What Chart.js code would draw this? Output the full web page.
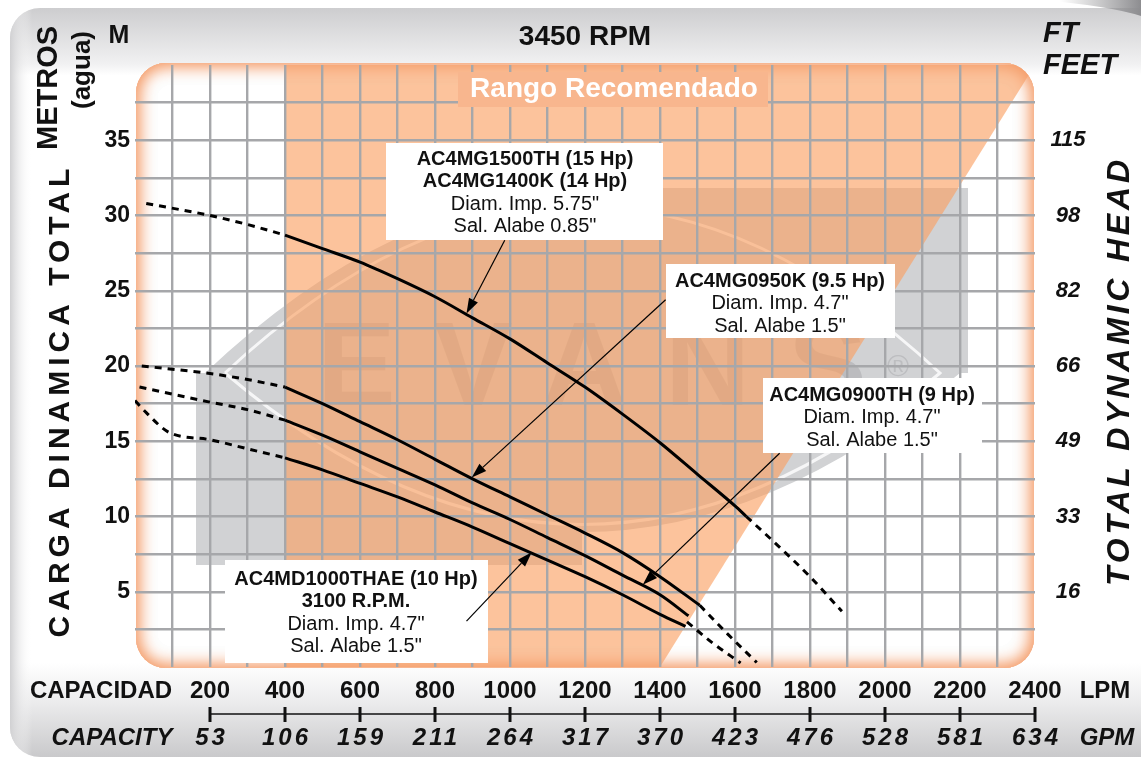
<!DOCTYPE html>
<html>
<head>
<meta charset="utf-8">
<script src="https://cdn.jsdelivr.net/npm/chart.js@4.4.1/dist/chart.umd.min.js"></script>
<style>
  html, body { margin: 0; padding: 0; background: #fff; }
  #wrap { width: 1141px; height: 759px; }
</style>
</head>
<body>
<div id="wrap"><canvas id="curvas" width="1141" height="759"></canvas></div>
<script>
// Curvas de bomba, 3450 RPM — caudal en LPM, carga en metros
const hp15Inicio = [[30, 30.8], [200, 30.0], [300, 29.4], [400, 28.7]];
const hp15 = [[400, 28.7], [500, 27.8], [600, 26.9], [700, 25.8], [800, 24.6], [900, 23.2], [1000, 21.8],
              [1100, 20.2], [1200, 18.6], [1300, 16.8], [1400, 14.9], [1500, 12.8], [1600, 10.7], [1630, 10.0]];
const hp15Fin = [[1630, 10.0], [1700, 8.4], [1800, 6.0], [1885, 3.7]];

const hp95Inicio = [[18, 20.0], [200, 19.5], [300, 19.1], [400, 18.6]];
const hp95 = [[400, 18.6], [500, 17.5], [600, 16.3], [700, 15.1], [800, 13.8], [900, 12.5], [1000, 11.3],
              [1100, 10.1], [1200, 8.9], [1300, 7.6], [1400, 6.0], [1506, 4.1]];
const hp95Fin = [[1506, 4.1], [1580, 2.2], [1658, 0.3]];

const hp9Inicio = [[12, 18.6], [200, 17.6], [300, 17.1], [400, 16.4]];
const hp9 = [[400, 16.4], [500, 15.4], [600, 14.3], [700, 13.2], [800, 12.1], [900, 10.9], [1000, 9.8],
             [1100, 8.6], [1200, 7.4], [1300, 6.1], [1400, 4.8], [1476, 3.4]];

const hp10Inicio = [[0, 17.7], [30, 16.9], [90, 15.6], [200, 15.1], [300, 14.5], [400, 13.9]];
const hp10 = [[400, 13.9], [500, 13.1], [600, 12.2], [700, 11.3], [800, 10.3], [900, 9.3], [1000, 8.2],
              [1100, 7.1], [1200, 6.0], [1300, 4.8], [1400, 3.5], [1468, 2.7]];
const hp9y10Fin = [[1472, 3.0], [1540, 1.6], [1615, 0.27]];

const rangoRecomendado = [[400, 0], [400, 40], [2400, 40], [1400, 0]];

const lpmTicks = [200, 400, 600, 800, 1000, 1200, 1400, 1600, 1800, 2000, 2200, 2400];
const gpmTicks = ['53', '106', '159', '211', '264', '317', '370', '423', '476', '528', '581', '634'];
const metrosTicks = [5, 10, 15, 20, 25, 30, 35];
const piesTicks = ['16', '33', '49', '66', '82', '98', '115'];

// etiquetas: [texto, negrita]
const etiqueta15 = [['AC4MG1500TH (15 Hp)', true], ['AC4MG1400K (14 Hp)', true], ['Diam. Imp. 5.75"', false], ['Sal. Alabe 0.85"', false]];
const etiqueta95 = [['AC4MG0950K (9.5 Hp)', true], ['Diam. Imp. 4.7"', false], ['Sal. Alabe 1.5"', false]];
const etiqueta9 = [['AC4MG0900TH (9 Hp)', true], ['Diam. Imp. 4.7"', false], ['Sal. Alabe 1.5"', false]];
const etiqueta10 = [['AC4MD1000THAE (10 Hp)', true], ['3100 R.P.M.', true], ['Diam. Imp. 4.7"', false], ['Sal. Alabe 1.5"', false]];

// flechas: origen (LPM, m) y punta sobre la curva (LPM)
const flecha15 = [[986, 28.35], 884, hp15];
const flecha95 = [[1415, 24.4], 898, hp95];
const flecha9 = [[1719, 14.2], 1354, hp9];
const flecha10 = [[884, 3.05], 1058, hp10];

const FONT = '"Liberation Sans", Arial, Helvetica, sans-serif';

function linea(data, dashed) {
  return {
    data: data.map(([x, y]) => ({ x, y })),
    showLine: true,
    borderColor: '#000',
    borderWidth: 3,
    borderDash: dashed ? [7, 6] : [],
    pointRadius: 0,
    cubicInterpolationMode: 'monotone',
    fill: false,
  };
}

function enCurva(curva, x) {
  for (let i = 1; i < curva.length; i++) {
    const [x0, y0] = curva[i - 1], [x1, y1] = curva[i];
    if (x >= x0 && x <= x1) return y0 + (y1 - y0) * (x - x0) / (x1 - x0);
  }
  return curva[curva.length - 1][1];
}

function texto(ctx, str, x, y, font, opts = {}) {
  ctx.save();
  ctx.font = font;
  ctx.fillStyle = opts.color || '#111';
  ctx.textAlign = opts.align || 'center';
  ctx.textBaseline = 'middle';
  if (opts.spacing) ctx.letterSpacing = opts.spacing + 'px';
  ctx.translate(x, y);
  if (opts.rot) ctx.rotate(opts.rot);
  ctx.fillText(str, opts.spacing && (opts.align || 'center') === 'center' ? opts.spacing / 2 : 0, 0);
  ctx.restore();
}

function marcaAgua(ctx) {
  // logotipo EVANS, aproximado
  ctx.save();
  ctx.beginPath();
  ctx.rect(196, 188, 772, 377);
  ctx.clip();
  ctx.fillStyle = '#d1d2d4';
  ctx.fillRect(196, 188, 772, 377);
  ctx.fillStyle = '#fff';
  ctx.beginPath();
  ctx.moveTo(150, 150); ctx.lineTo(582, 150); ctx.lineTo(582, 196);
  ctx.quadraticCurveTo(392, 196, 205, 373); ctx.lineTo(150, 373); ctx.closePath();
  ctx.fill();
  ctx.beginPath();
  ctx.moveTo(1000, 373); ctx.lineTo(960, 373);
  ctx.quadraticCurveTo(771, 532, 582, 532); ctx.lineTo(582, 600); ctx.lineTo(1000, 600); ctx.closePath();
  ctx.fill();
  ctx.strokeStyle = 'rgba(255,255,255,0.8)';
  ctx.lineWidth = 3;
  ctx.beginPath();
  ctx.moveTo(225, 373);
  ctx.quadraticCurveTo(582, 40, 940, 373);
  ctx.quadraticCurveTo(582, 676, 225, 373);
  ctx.stroke();
  ctx.restore();
  texto(ctx, 'EVANS', 592, 372, 'bold 118px ' + FONT, { color: 'rgba(120,120,125,0.24)', spacing: 38 });
  texto(ctx, '®', 898, 368, '30px ' + FONT, { color: 'rgba(120,120,125,0.22)' });
}

const fondo = {
  id: 'fondo',
  beforeDraw(chart) {
    const ctx = chart.ctx;
    const xs = chart.scales.x, ys = chart.scales.y;
    const W = chart.width, H = chart.height;
    ctx.save();
    ctx.fillStyle = '#fff';
    ctx.fillRect(0, 0, W, H);

    // tarjeta gris
    let g = ctx.createLinearGradient(0, 8, 0, 757);
    g.addColorStop(0, '#cdcdcf');
    g.addColorStop(0.075, '#f1f1f2');
    g.addColorStop(0.09, '#ffffff');
    g.addColorStop(0.874, '#ffffff');
    g.addColorStop(0.924, '#ededee');
    g.addColorStop(1, '#c9c9cb');
    ctx.beginPath();
    ctx.roundRect(10, 8, W + 40, 749, 30);
    ctx.fillStyle = g;
    ctx.fill();
    ctx.save();
    ctx.clip();
    g = ctx.createLinearGradient(10, 0, 32, 0);
    g.addColorStop(0, '#d0d0d2');
    g.addColorStop(1, 'rgba(255,255,255,0)');
    ctx.fillStyle = g;
    ctx.fillRect(10, 0, 22, H);
    ctx.restore();

    // sombra superior derecha
    g = ctx.createLinearGradient(1060, 0, 1141, 0);
    g.addColorStop(0, 'rgba(150,150,152,0)');
    g.addColorStop(1, '#8d8d90');
    ctx.fillStyle = g;
    ctx.beginPath();
    ctx.moveTo(1040, 0); ctx.lineTo(1141, 0); ctx.lineTo(1141, 16);
    ctx.quadraticCurveTo(1110, 6, 1040, 0);
    ctx.fill();

    // area de grafica
    const L = xs.getPixelForValue(0) + 1, R = xs.getPixelForValue(2400) - 1;
    const T = ys.getPixelForValue(40) - 2, B = ys.getPixelForValue(0) + 1;
    ctx.beginPath();
    ctx.roundRect(L, T, R - L, B - T, 30);
    ctx.fillStyle = '#fff';
    ctx.fill();
    ctx.clip();
    marcaAgua(ctx);

    ctx.beginPath();
    rangoRecomendado.forEach(([x, y], i) => {
      const px = xs.getPixelForValue(x), py = ys.getPixelForValue(y);
      if (i === 0) ctx.moveTo(px, py); else ctx.lineTo(px, py);
    });
    ctx.closePath();
    ctx.fillStyle = 'rgba(250,158,95,0.62)';
    ctx.fill();

    // resplandor naranja del borde
    for (let k = 0; k < 2; k++) {
      ctx.save();
      ctx.shadowColor = '#f59c68';
      ctx.shadowBlur = 18;
      ctx.beginPath();
      ctx.rect(L - 300, T - 300, R - L + 600, B - T + 600);
      ctx.roundRect(L, T, R - L, B - T, 30);
      ctx.fillStyle = '#f59c68';
      ctx.fill('evenodd');
      ctx.restore();
    }
    ctx.restore();
  },
  beforeDatasetsDraw(chart) {
    const ctx = chart.ctx;
    // caja "Rango Recomendado"
    ctx.fillStyle = '#f8b68e';
    ctx.fillRect(458, 72, 310, 35);
    texto(ctx, 'Rango Recomendado', 614, 89, 'bold 28px ' + FONT, { color: '#fff' });

    const caja = (lineas, x, y, w, h, y0, cx) => {
      ctx.fillStyle = '#fff';
      ctx.fillRect(x, y, w, h);
      lineas.forEach(([s, b], i) => texto(ctx, s, cx, y0 + i * 22.6, (b ? 'bold ' : '') + '20px ' + FONT, { color: '#111' }));
    };
    caja(etiqueta15, 386, 143, 277, 97, 159, 525);
    caja(etiqueta95, 666, 264, 229, 74, 281, 780);
    caja(etiqueta9, 763, 378, 219, 75, 395, 872);
    caja(etiqueta10, 225, 560, 263, 103, 579, 356);
  },
  afterDatasetsDraw(chart) {
    const ctx = chart.ctx;
    const xs = chart.scales.x, ys = chart.scales.y;
    [flecha15, flecha95, flecha9, flecha10].forEach(([a, tx, curva]) => {
      const x1 = xs.getPixelForValue(a[0]), y1 = ys.getPixelForValue(a[1]);
      const x2 = xs.getPixelForValue(tx), y2 = ys.getPixelForValue(enCurva(curva, tx)) - 1;
      const ang = Math.atan2(y2 - y1, x2 - x1);
      const len = 15, half = 5;
      const bx = x2 - len * Math.cos(ang), by = y2 - len * Math.sin(ang);
      ctx.save();
      ctx.strokeStyle = '#000';
      ctx.lineWidth = 1.2;
      ctx.beginPath(); ctx.moveTo(x1, y1); ctx.lineTo(bx, by); ctx.stroke();
      ctx.fillStyle = '#000';
      ctx.beginPath();
      ctx.moveTo(x2, y2);
      ctx.lineTo(bx + half * Math.sin(ang), by - half * Math.cos(ang));
      ctx.lineTo(bx - half * Math.sin(ang), by + half * Math.cos(ang));
      ctx.closePath();
      ctx.fill();
      ctx.restore();
    });
  },
  afterDraw(chart) {
    const ctx = chart.ctx;
    const xs = chart.scales.x, ys = chart.scales.y;
    const B = 'bold ', BI = 'italic bold ';

    texto(ctx, '3450 RPM', 585, 37, B + '28px ' + FONT);
    texto(ctx, 'M', 119, 36, B + '25px ' + FONT);
    texto(ctx, 'METROS', 49, 88, B + '29px ' + FONT, { rot: -Math.PI / 2 });
    texto(ctx, '(agua)', 83, 70, B + '26px ' + FONT, { rot: -Math.PI / 2 });
    texto(ctx, 'CARGA DINAMICA TOTAL', 61, 403, B + '30px ' + FONT, { rot: -Math.PI / 2, spacing: 5 });

    texto(ctx, 'FT', 1043, 34, BI + '29px ' + FONT, { align: 'left' });
    texto(ctx, 'FEET', 1043, 66, BI + '29px ' + FONT, { align: 'left' });
    texto(ctx, 'TOTAL DYNAMIC HEAD', 1120, 373, BI + '32px ' + FONT, { rot: -Math.PI / 2, spacing: 3.8 });

    metrosTicks.forEach((v, i) => {
      const y = ys.getPixelForValue(v);
      texto(ctx, String(v), 130, y, B + '23px ' + FONT, { align: 'right' });
      texto(ctx, piesTicks[i], 1068, y, BI + '22px ' + FONT);
    });

    const yL = 691, yEje = 714, yG = 738;
    texto(ctx, 'CAPACIDAD', 101, yL, B + '24px ' + FONT);
    texto(ctx, 'LPM', 1105, yL, B + '24px ' + FONT);
    texto(ctx, 'CAPACITY', 112, yG, BI + '24px ' + FONT);
    texto(ctx, 'GPM', 1107, yG, BI + '24px ' + FONT);
    ctx.save();
    ctx.strokeStyle = '#111';
    ctx.lineWidth = 1.5;
    ctx.beginPath();
    ctx.moveTo(xs.getPixelForValue(lpmTicks[0]), yEje);
    ctx.lineTo(xs.getPixelForValue(lpmTicks[lpmTicks.length - 1]), yEje);
    ctx.stroke();
    ctx.lineWidth = 3;
    lpmTicks.forEach((v, i) => {
      const x = xs.getPixelForValue(v);
      ctx.beginPath(); ctx.moveTo(x, yEje - 7); ctx.lineTo(x, yEje + 8); ctx.stroke();
      texto(ctx, String(v), x, yL, B + '24px ' + FONT);
      texto(ctx, gpmTicks[i], x, yG, BI + '24px ' + FONT, { spacing: 3 });
    });
    ctx.restore();
  },
};

const gridColor = (ctx, lo, hi) => (ctx.tick && (ctx.tick.value <= lo || ctx.tick.value >= hi)) ? 'rgba(0,0,0,0)' : '#a6a7aa';

new Chart(document.getElementById('curvas'), {
  type: 'scatter',
  data: {
    datasets: [
      linea(hp15Inicio, true), linea(hp15, false), linea(hp15Fin, true),
      linea(hp95Inicio, true), linea(hp95, false), linea(hp95Fin, true),
      linea(hp9Inicio, true), linea(hp9, false),
      linea(hp10Inicio, true), linea(hp10, false), linea(hp9y10Fin, true),
    ],
  },
  options: {
    responsive: false,
    animation: false,
    devicePixelRatio: 1,
    layout: { padding: { left: 135, right: 106, top: 65, bottom: 92 } },
    plugins: { legend: { display: false }, tooltip: { enabled: false } },
    scales: {
      x: {
        type: 'linear', min: 0, max: 2400,
        ticks: { display: false, stepSize: 100 },
        border: { display: false },
        grid: { drawTicks: false, lineWidth: 2.4, color: (c) => gridColor(c, 0, 2400) },
      },
      y: {
        type: 'linear', min: 0, max: 40,
        ticks: { display: false, stepSize: 2.5 },
        border: { display: false },
        grid: { drawTicks: false, lineWidth: 2.4, color: (c) => gridColor(c, 0, 40) },
      },
    },
  },
  plugins: [fondo],
});
</script>
</body>
</html>
